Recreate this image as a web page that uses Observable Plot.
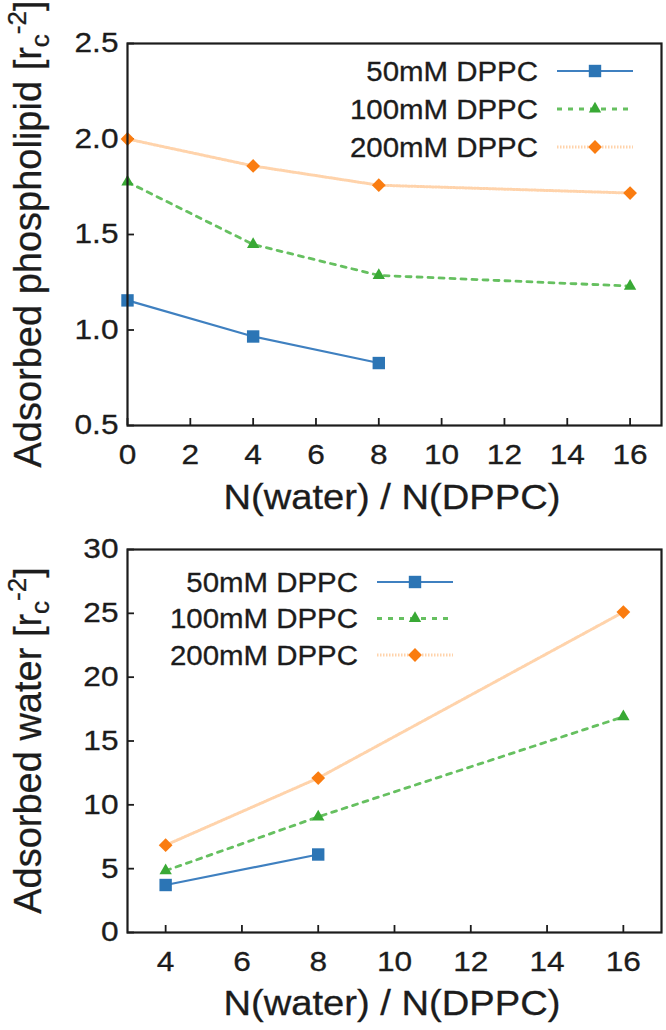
<!DOCTYPE html>
<html><head><meta charset="utf-8">
<script src="https://cdn.jsdelivr.net/npm/d3@7"></script>
<script src="https://cdn.jsdelivr.net/npm/@observablehq/plot@0.6"></script>
<style>
body{margin:0;background:#fff;}
#chart svg{display:block;}
#chart text{stroke:#1c1c1c;stroke-width:0.3px;}
</style>
</head><body><div id="chart"></div>
<script>
// ---- data ----
const seriesNames = ["50mM DPPC", "100mM DPPC", "200mM DPPC"];

const topX50 = [0, 4, 8];
const topY50 = [1.155, 0.966, 0.827];
const topX100 = [0, 4, 8, 16];
const topY100 = [1.775, 1.448, 1.286, 1.23];
const topX200 = [0, 4, 8, 16];
const topY200 = [2.0, 1.859, 1.758, 1.717];

const botX50 = [4, 8];
const botY50 = [3.72, 6.11];
const botX100 = [4, 8, 16];
const botY100 = [4.84, 9.06, 16.9];
const botX200 = [4, 8, 16];
const botY200 = [6.84, 12.1, 25.1];

const topXTicks = [0, 2, 4, 6, 8, 10, 12, 14, 16];
const topYTicks = [0.5, 1.0, 1.5, 2.0, 2.5];
const botXTicks = [4, 6, 8, 10, 12, 14, 16];
const botYTicks = [0, 5, 10, 15, 20, 25, 30];

const xTitle = "N(water) / N(DPPC)";
const topYTitle = "Adsorbed phospholipid";
const botYTitle = "Adsorbed water";

// ---- styles ----
const styles = [
  {line: "#3f80c0", marker: "#2c75b5", width: 2.2, dash: null, symbol: "square", r: 7, d3sym: d3.symbolSquare},
  {line: "#66c060", marker: "#39a935", width: 2.8, dash: "5,6", symbol: "triangle2", r: 5.9, d3sym: d3.symbolTriangle2},
  {line: "#ffd3ab", marker: "#fa7c10", width: 3, dash: "1.5,1.5", symbol: "diamond2", r: 6.2, d3sym: d3.symbolDiamond2}
];
const FONT = "'Liberation Sans', Arial, Helvetica, sans-serif";
const INK = "#1c1c1c";
const TICK_FS = 28, LEGEND_FS = 27, XTITLE_FS = 35, YTITLE_FS = 38;
const TICK_SX = 1.13, LEGEND_SX = 1.09, XTITLE_SX = 1.09;

function toRows(xs, ys) { return xs.map((x, i) => ({x, y: ys[i]})); }

function panel(o) {
  const W = 666, mL = 127, mR = 5;
  const plotW = W - mL - mR, plotH = o.height - o.marginTop - o.marginBottom;
  const marks = [
    Plot.axisX(o.xTicks, {tickSize: 0, tickPadding: 19, fontSize: TICK_FS, label: null, fill: INK}),
    Plot.axisY(o.yTicks, {tickSize: 0, tickPadding: 9, fontSize: TICK_FS, label: null, fill: INK, tickFormat: o.yFmt}),
    Plot.tickX(o.xTicks, {x: d => d, insetTop: plotH - 7, stroke: INK, strokeWidth: 1.8}),
    Plot.tickY(o.yTicks, {y: d => d, insetRight: plotW - 7, stroke: INK, strokeWidth: 1.8})
  ];
  o.series.forEach((rows, i) => {
    const s = styles[i];
    marks.push(Plot.line(rows, {x: "x", y: "y", stroke: s.line, strokeWidth: s.width, strokeDasharray: s.dash}));
  });
  o.series.forEach((rows, i) => {
    const s = styles[i];
    marks.push(Plot.dot(rows, {x: "x", y: "y", symbol: () => s.symbol, fill: s.marker, stroke: "none", r: s.r}));
  });
  marks.push(Plot.frame({stroke: INK, strokeWidth: 2.2}));

  const svg = Plot.plot({
    width: W, height: o.height,
    marginLeft: mL, marginRight: mR, marginTop: o.marginTop, marginBottom: o.marginBottom,
    x: {domain: o.xDomain},
    y: {domain: o.yDomain},
    symbol: {type: "identity"},
    style: {fontFamily: FONT, background: "transparent", color: INK, overflow: "visible"},
    marks
  });

  const sel = d3.select(svg);
  sel.selectAll("text").classed("stretch-tick", true);

  const cy = o.marginTop + plotH / 2;
  const t = sel.append("text")
    .attr("transform", `translate(41,${cy}) rotate(-90)`)
    .attr("text-anchor", "middle")
    .attr("font-family", FONT).attr("font-size", YTITLE_FS).attr("fill", INK);
  t.append("tspan").text(o.yTitle + " [r");
  t.append("tspan").attr("font-size", 26).attr("dy", 8).text("c");
  t.append("tspan").attr("font-size", 26).attr("dy", -23).text("-2");
  t.append("tspan").attr("dy", 15).text("]");

  sel.append("text")
    .attr("class", "stretch-xtitle")
    .attr("x", mL + plotW / 2 - 2).attr("y", o.height - o.marginBottom + o.xTitleOffset)
    .attr("text-anchor", "middle")
    .attr("font-family", FONT).attr("font-size", XTITLE_FS).attr("fill", INK)
    .text(xTitle);

  const lg = sel.append("g").attr("font-family", FONT).attr("font-size", LEGEND_FS).attr("fill", INK);
  seriesNames.forEach((name, i) => {
    const s = styles[i];
    const y = o.legend.y0 + i * o.legend.dy;
    lg.append("text").attr("class", "stretch-legend")
      .attr("x", o.legend.textX).attr("y", y).attr("dy", "0.36em")
      .attr("text-anchor", "end").text(name);
    lg.append("line").attr("x1", o.legend.lineX1).attr("x2", o.legend.lineX2)
      .attr("y1", y).attr("y2", y)
      .attr("stroke", s.line).attr("stroke-width", s.width)
      .attr("stroke-dasharray", s.dash);
    lg.append("path")
      .attr("transform", `translate(${(o.legend.lineX1 + o.legend.lineX2) / 2},${y})`)
      .attr("d", d3.symbol(s.d3sym, Math.PI * s.r * s.r)())
      .attr("fill", s.marker);
  });
  return svg;
}

const topPanel = panel({
  height: 520, marginTop: 43, marginBottom: 95,
  xDomain: [0, 17], yDomain: [0.5, 2.5],
  xTicks: topXTicks, yTicks: topYTicks, yFmt: d3.format(".1f"),
  series: [toRows(topX50, topY50), toRows(topX100, topY100), toRows(topX200, topY200)],
  yTitle: topYTitle, xTitleOffset: 84,
  legend: {textX: 538, y0: 71, dy: 38, lineX1: 557, lineX2: 633}
});
const bottomPanel = panel({
  height: 510, marginTop: 29, marginBottom: 98,
  xDomain: [3, 17], yDomain: [0, 30],
  xTicks: botXTicks, yTicks: botYTicks, yFmt: d3.format("d"),
  series: [toRows(botX50, botY50), toRows(botX100, botY100), toRows(botX200, botY200)],
  yTitle: botYTitle, xTitleOffset: 83,
  legend: {textX: 358, y0: 62, dy: 36.5, lineX1: 377, lineX2: 453}
});
document.getElementById("chart").append(topPanel, bottomPanel);

// widen glyphs horizontally (the reference's lettering is horizontally stretched)
function widen(selector, k) {
  document.querySelectorAll(selector).forEach(el => {
    const L = el.getComputedTextLength();
    if (L > 0) {
      el.setAttribute("textLength", (L * k).toFixed(2));
      el.setAttribute("lengthAdjust", "spacingAndGlyphs");
    }
  });
}
widen("#chart text.stretch-tick", TICK_SX);
widen("#chart text.stretch-legend", LEGEND_SX);
widen("#chart text.stretch-xtitle", XTITLE_SX);
</script>
</body></html>
